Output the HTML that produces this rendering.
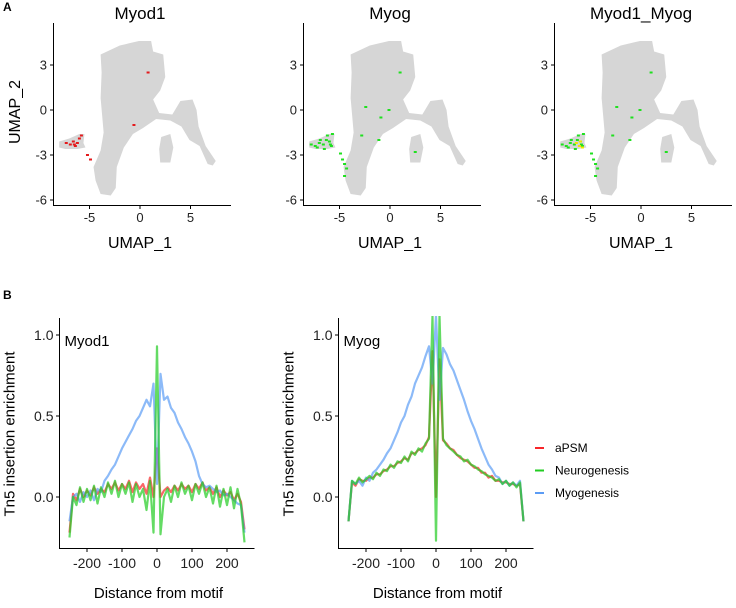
<!DOCTYPE html>
<html><head><meta charset="utf-8"><style>
body{margin:0;background:#fff;width:736px;height:603px;overflow:hidden;font-family:"Liberation Sans",sans-serif}
svg text{font-family:"Liberation Sans",sans-serif}
</style></head><body>
<svg id="fig" width="736" height="603" viewBox="0 0 736 603" xmlns="http://www.w3.org/2000/svg"></svg>
<script>
// ---------- Panel A data ----------
const umapTitles = ["Myod1", "Myog", "Myod1_Myog"];
const umapXTicks = [-5, 0, 5];
const umapYTicks = [3, 0, -3, -6];
// cluster outlines in UMAP units
const mainBody = [[-3.9,3.7],[-2,4.3],[-0.1,4.6],[1.1,4.6],[1.3,3.9],[2.3,3.7],[2.5,2.2],[2,1.3],[1.3,0.7],[1.9,-0.2],[3.2,-0.3],[4,0.6],[5.2,0.7],[5.6,0],[5.8,-1.1],[6.5,-2.4],[7.5,-3.4],[7.2,-3.7],[6.7,-3.6],[5.9,-2.4],[4.9,-2],[4.1,-1.1],[3,-0.7],[1.6,-0.6],[0.3,-1.2],[-0.7,-1.6],[-1.6,-2.5],[-2.3,-3.8],[-2.4,-5.2],[-2.9,-5.7],[-3.9,-5.6],[-4.4,-4.7],[-4.6,-3.8],[-3.9,-2.7],[-3.6,-1.5],[-3.9,0.8],[-3.8,2.5]];
const islandBody = [[2.1,-1.8],[3,-1.6],[3.3,-2.5],[3,-3.5],[2,-3.5],[1.9,-2.6]];
const leftCluster = [[-8,-2.1],[-7,-1.9],[-6,-1.6],[-5.5,-1.6],[-5.6,-2.2],[-5.4,-2.5],[-6.2,-2.6],[-7.4,-2.6],[-8,-2.5]];
const redCellsU = [-6.9,-6.5,-6.2,-6.0,-6.4,-7.3,-5.8,-5.2,-4.9,-6.6,0.8,-0.6];
const redCellsV = [-2.3,-2.3,-2.2,-1.9,-2.4,-2.2,-1.7,-3.0,-3.3,-2.1,2.5,-1.0];
const greenCellsU = [-7.8,-7.4,-7.0,-6.6,-6.3,-6.0,-5.8,-6.2,-6.9,-7.2,-5.7,-5.9,-6.5,-4.9,-4.7,-4.5,-4.3,-4.5,1.0,-2.4,-0.9,-1.1,-2.8,2.5,-0.1];
const greenCellsV = [-2.3,-2.4,-2.2,-2.3,-2.0,-2.1,-2.4,-1.7,-2.0,-2.5,-1.6,-2.3,-2.6,-2.9,-3.3,-3.6,-3.9,-4.4,2.5,0.2,-0.5,-2.0,-1.7,-2.8,0.0];
const yellowCellsU = [-6.1,-5.8,-6.4,-6.0];
const yellowCellsV = [-2.4,-2.5,-2.2,-2.1];
// ---------- Panel B data ----------
const dist = [-250,-240,-230,-220,-210,-200,-190,-180,-170,-160,-150,-140,-130,-120,-110,-100,-90,-80,-70,-60,-50,-40,-30,-20,-10,0,10,20,30,40,50,60,70,80,90,100,110,120,130,140,150,160,170,180,190,200,210,220,230,240,250];
const myod1Red = [-0.22,0.02,-0.02,0.05,0.0,0.04,0.01,0.06,0.02,0.05,0.03,0.08,0.05,0.09,0.04,0.08,0.05,0.1,0.03,0.09,0.05,0.08,0.02,0.12,0.0,0.3,0.0,0.04,0.06,0.03,0.07,0.04,0.08,0.05,0.07,0.03,0.08,0.05,0.09,0.04,0.06,0.02,0.06,0.0,0.04,0.01,0.03,-0.02,0.02,-0.03,-0.2];
const myod1Green = [-0.25,0.0,-0.05,0.06,-0.03,0.05,-0.02,0.07,-0.04,0.06,0.0,0.09,0.02,0.1,0.0,0.08,0.02,0.09,-0.03,0.08,0.0,0.05,-0.08,0.1,-0.22,0.93,-0.23,0.0,0.05,-0.03,0.07,0.0,0.09,0.02,0.07,-0.02,0.08,0.02,0.09,0.0,0.06,-0.04,0.07,-0.06,0.05,-0.05,0.06,-0.07,0.05,-0.05,-0.28];
const myod1Blue = [-0.15,0.0,0.02,-0.03,0.03,0.0,0.04,-0.02,0.05,0.03,0.1,0.13,0.17,0.2,0.25,0.3,0.34,0.38,0.42,0.47,0.5,0.55,0.6,0.56,0.7,0.08,0.76,0.6,0.62,0.55,0.52,0.46,0.42,0.37,0.33,0.28,0.22,0.13,0.08,0.06,0.07,0.05,0.03,0.04,0.01,0.02,0.0,-0.02,-0.04,-0.05,-0.22];
const myogRed = [-0.15,0.09,0.07,0.11,0.1,0.1,0.12,0.12,0.14,0.14,0.16,0.17,0.19,0.19,0.21,0.22,0.24,0.23,0.27,0.27,0.29,0.3,0.32,0.37,0.9,0.0,0.85,0.35,0.33,0.3,0.29,0.26,0.24,0.23,0.22,0.2,0.18,0.18,0.15,0.15,0.12,0.13,0.1,0.1,0.09,0.09,0.08,0.08,0.07,0.08,-0.15];
const myogGreen = [-0.15,0.1,0.08,0.12,0.09,0.11,0.13,0.11,0.15,0.13,0.17,0.16,0.2,0.18,0.22,0.21,0.25,0.22,0.28,0.26,0.3,0.28,0.33,0.36,1.12,-0.27,1.12,0.36,0.32,0.3,0.28,0.26,0.25,0.22,0.23,0.2,0.19,0.17,0.16,0.14,0.13,0.12,0.1,0.11,0.08,0.1,0.07,0.09,0.06,0.09,-0.15];
const myogBlue = [-0.15,0.1,0.08,0.1,0.07,0.12,0.1,0.15,0.17,0.2,0.23,0.27,0.3,0.35,0.4,0.46,0.5,0.57,0.62,0.7,0.75,0.8,0.87,0.93,0.7,1.12,0.6,0.92,0.88,0.82,0.78,0.72,0.66,0.6,0.53,0.47,0.42,0.36,0.3,0.25,0.2,0.17,0.13,0.12,0.08,0.1,0.07,0.09,0.07,0.1,-0.15];
const bYTicks = [0.0, 0.5, 1.0];
const bXTicks = [-200, -100, 0, 100, 200];
const legendLabels = ["aPSM", "Neurogenesis", "Myogenesis"];
const legendColors = ["#f8262a", "#22cc22", "#5b9cf5"];

const NS = "http://www.w3.org/2000/svg";
const svg = document.getElementById("fig");
function mk(tag, attrs, parent) {
  const e = document.createElementNS(NS, tag);
  for (const k in attrs) e.setAttribute(k, attrs[k]);
  (parent || svg).appendChild(e);
  return e;
}
function txt(s, attrs, parent) { const t = mk("text", attrs, parent); t.textContent = s; return t; }

let la = txt("A", {x: 3, y: 11, "font-size": 12, "font-weight": "bold"});


let lb = txt("B", {x: 3, y: 299, "font-size": 12, "font-weight": "bold"});



// ---------- Panel A ----------
const panelOffsets = [0, 250, 501];
umapTitles.forEach((title, pi) => {
  const off = panelOffsets[pi];
  const g = mk("g", {});
  
  
  const sx = u => off + 140 + 10.1 * u;
  const sy = v => 110 - 15 * v;
  const poly = (pts, name) => {
    const p = mk("polygon", {points: pts.map(p => sx(p[0]) + "," + sy(p[1])).join(" "), fill: "#d6d6d6"}, g);
    
    
  };
  poly(mainBody, 'main-cell-cluster');
  poly(islandBody, 'island-cell-cluster');
  poly(leftCluster, 'muscle-cell-cluster');
  const dots = (us, vs, color, name) => {
    us.forEach((u, i) => {
      const r = mk("rect", {x: sx(u) - 1.5, y: sy(vs[i]) - 1, width: 3, height: 2, fill: color}, g);
      
      
    });
  };
  if (pi === 0) dots(redCellsU, redCellsV, "#e41a1c", 'myod1-cell');
  if (pi >= 1) dots(greenCellsU, greenCellsV, "#1fe01f", 'myog-cell');
  if (pi === 2) dots(yellowCellsU, yellowCellsV, "#f2e600", 'coexpress-cell');
  const ax = mk("path", {d: `M${off+53.5},23 V205.5 H${off+231}`, stroke: "#000", fill: "none", "stroke-width": 1}, g);
  
  
  umapXTicks.forEach(t => {
    mk("line", {x1: sx(t), x2: sx(t), y1: 205.5, y2: 209, stroke: "#000"}, g);
    const tl = txt(String(t), {x: sx(t), y: 222, "font-size": 13, "text-anchor": "middle", fill: "#222"}, g);
    
    
  });
  umapYTicks.forEach(t => {
    mk("line", {x1: off + 50, x2: off + 53.5, y1: sy(t), y2: sy(t), stroke: "#000"}, g);
    const tl = txt(String(t), {x: off + 47, y: sy(t) + 4.5, "font-size": 13, "text-anchor": "end", fill: "#222"}, g);
    
    
  });
  const tt = txt(title, {x: off + 140, y: 19, "font-size": 17, "text-anchor": "middle"}, g);
  
  
  const xt = txt("UMAP_1", {x: off + 140, y: 248, "font-size": 16, "text-anchor": "middle"}, g);
  
  
  if (pi === 0) {
    const yt = txt("UMAP_2", {x: 0, y: 0, "font-size": 16, "text-anchor": "middle", transform: "translate(20,112) rotate(-90)"}, g);
    
    
  }
});

// ---------- Panel B ----------
const bPanels = [
  {name: "Myod1", ax: 59.5, x0: 157, series: [myod1Red, myod1Green, myod1Blue]},
  {name: "Myog", ax: 338.5, x0: 436, series: [myogRed, myogGreen, myogBlue]}
];
const by = v => 497 - 162 * v;
mk("defs", {}).innerHTML = '<clipPath id="clipB"><rect x="0" y="316" width="736" height="240"/></clipPath>';
bPanels.forEach(p => {
  const g = mk("g", {});
  
  
  const bx = d => p.x0 + 0.35 * d;
  const lg = mk("g", {"clip-path": "url(#clipB)"}, g);
  const order = [0, 2, 1];
  order.forEach(si => {
    const vals = p.series[si];
    const d = vals.map((v, i) => (i ? "L" : "M") + bx(dist[i]).toFixed(1) + "," + by(v).toFixed(1)).join("");
    const path = mk("path", {d: d, fill: "none", stroke: legendColors[si], "stroke-width": 2.2, "stroke-opacity": 0.7, "stroke-linejoin": "round"}, lg);
    
    
  });
  const ax = mk("path", {d: `M${p.ax},318 V548.5 H${p.ax + 195}`, stroke: "#000", fill: "none"}, g);
  
  
  bYTicks.forEach(t => {
    mk("line", {x1: p.ax - 3.5, x2: p.ax, y1: by(t), y2: by(t), stroke: "#000"}, g);
    const tl = txt(t.toFixed(1), {x: p.ax - 6, y: by(t) + 5, "font-size": 14, "text-anchor": "end", fill: "#222"}, g);
    
    
  });
  bXTicks.forEach(t => {
    mk("line", {x1: bx(t), x2: bx(t), y1: 548.5, y2: 552, stroke: "#000"}, g);
    const tl = txt(String(t), {x: bx(t), y: 568, "font-size": 14, "text-anchor": "middle", fill: "#222"}, g);
    
    
  });
  const nm = txt(p.name, {x: p.ax + 5, y: 346, "font-size": 15}, g);
  
  
  const xt = txt("Distance from motif", {x: p.ax + 99, y: 598, "font-size": 15, "text-anchor": "middle"}, g);
  
  
  const yt = txt("Tn5 insertion enrichment", {x: 0, y: 0, "font-size": 15, "text-anchor": "middle", transform: `translate(${p.ax - 45},434) rotate(-90)`}, g);
  
  
});

const leg = mk("g", {});


legendLabels.forEach((l, i) => {
  const y = 448 + i * 22.5;
  const ln = mk("line", {x1: 535, x2: 544, y1: y, y2: y, stroke: legendColors[i], "stroke-width": 2}, leg);
  
  
  const t = txt(l, {x: 555, y: y + 4, "font-size": 12}, leg);
  
  
});
</script>
</body></html>
